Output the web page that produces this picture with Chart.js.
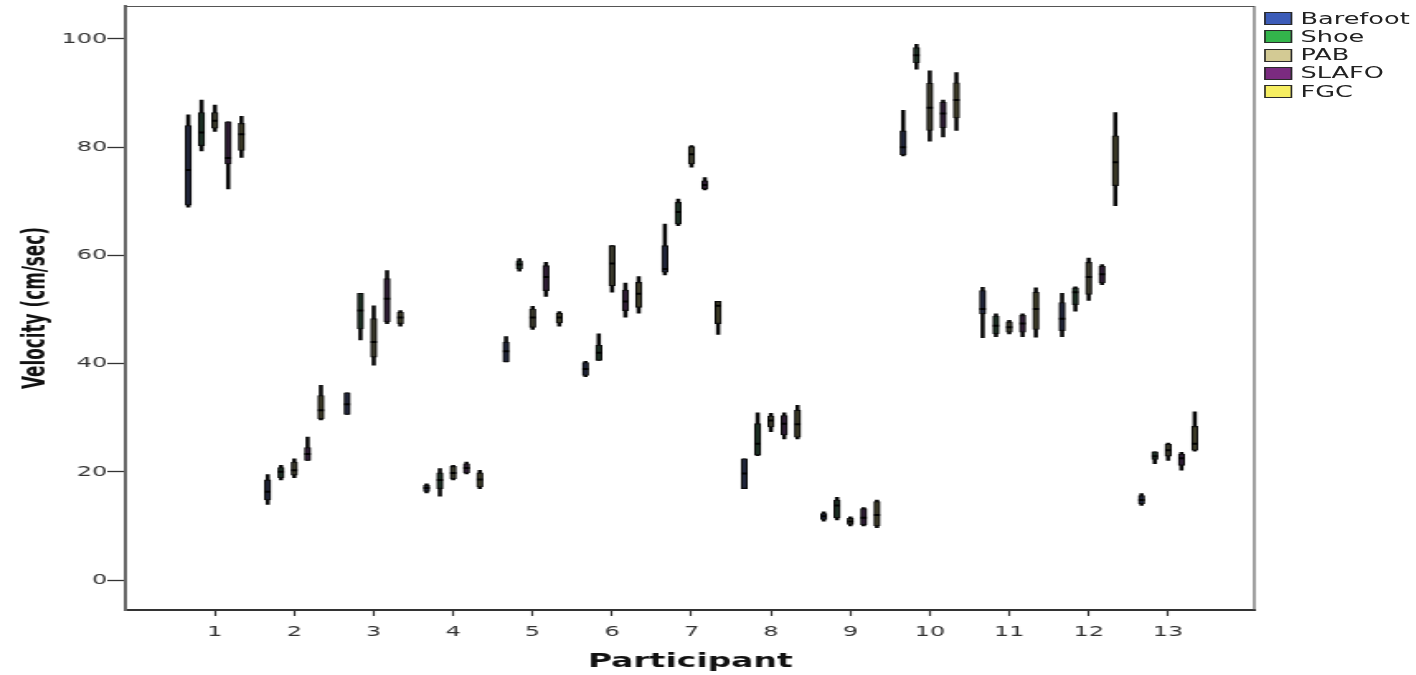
<!DOCTYPE html>
<html>
<head>
<meta charset="utf-8">
<script src="https://cdn.jsdelivr.net/npm/chart.js@4.4.1/dist/chart.umd.min.js"></script>
<style>
  html, body { margin: 0; padding: 0; background: #fff; overflow: hidden; }
  /* the figure is laid out narrow and widened horizontally */
  #stage { position: absolute; left: 0; top: 0; width: 858px; height: 675px;
           transform-origin: 0 0; transform: scaleX(1.65035); }
  #c { position: absolute; left: 0; top: 0; }
  #legend { position: absolute; left: 765.6px; top: 9.4px;
            font: 15.5px "DejaVu Sans", sans-serif; color: #222; }
  .item { height: 18.25px; display: flex; align-items: center; white-space: nowrap; }
  .sw { width: 17.4px; height: 13px; box-sizing: border-box; border: 1.5px solid #2a2a2a; margin-right: 5px; }
</style>
</head>
<body>
<div id="stage">
  <canvas id="c" width="858" height="675"></canvas>
  <div id="legend"></div>
</div>
<script>
// Participants on the category axis
const participants = [1, 2, 3, 4, 5, 6, 7, 8, 9, 10, 11, 12, 13];
const seriesNames = ['Barefoot', 'Shoe', 'PAB', 'SLAFO', 'FGC'];
const yTicks = [0, 20, 40, 60, 80, 100];

// Velocity (cm/sec) per participant: [low whisker, Q1, median, Q3, high whisker]
const barefoot = [
  [68.9, 69.3, 75.8, 84.0, 86.0], [14.0, 14.8, 16.3, 18.5, 19.5], [30.6, 30.6, 32.5, 34.6, 34.6],
  [16.1, 16.4, 17.0, 17.5, 17.8], [40.3, 40.3, 42.3, 44.0, 45.0], [37.6, 37.8, 39.0, 40.2, 40.4],
  [56.4, 56.9, 57.5, 61.8, 65.8], [16.9, 16.9, 19.7, 22.4, 22.4], [10.9, 11.2, 11.8, 12.3, 12.6],
  [78.4, 78.6, 80.0, 83.0, 86.8], [44.8, 49.2, 50.1, 53.5, 54.1], [45.0, 46.1, 48.3, 51.3, 53.0],
  [13.8, 14.1, 14.8, 15.6, 16.0]
];
const shoe = [
  [79.3, 80.3, 82.7, 86.4, 88.7], [18.5, 18.9, 20.0, 20.8, 21.2], [44.4, 46.4, 49.8, 53.0, 53.0],
  [15.5, 16.9, 18.5, 19.8, 20.6], [57.1, 57.5, 58.3, 59.0, 59.4], [40.6, 40.6, 42.0, 43.4, 45.5],
  [65.5, 65.8, 68.0, 69.8, 70.4], [23.0, 23.1, 25.2, 28.9, 30.9], [11.1, 11.5, 13.8, 14.8, 15.3],
  [94.4, 95.6, 97.0, 98.4, 99.0], [45.0, 45.5, 47.0, 48.8, 49.2], [49.7, 50.9, 53.2, 54.0, 54.2],
  [21.5, 22.3, 22.9, 23.7, 23.7]
];
const pab = [
  [82.9, 83.5, 84.9, 86.4, 87.8], [18.9, 19.4, 20.3, 21.8, 22.4], [39.7, 41.2, 44.0, 48.3, 50.7],
  [18.5, 18.7, 19.8, 21.0, 21.2], [46.3, 46.7, 48.5, 50.1, 50.6], [53.2, 54.4, 58.5, 61.8, 61.8],
  [76.3, 76.9, 78.7, 80.1, 80.3], [27.4, 28.3, 29.5, 30.3, 30.8], [10.0, 10.3, 10.8, 11.4, 11.7],
  [81.1, 83.1, 87.3, 91.8, 94.1], [45.5, 45.8, 46.7, 47.7, 48.0], [51.7, 52.8, 56.0, 58.7, 59.5],
  [22.1, 22.9, 24.0, 25.1, 25.3]
];
const slafo = [
  [72.3, 76.9, 78.0, 84.7, 84.7], [22.1, 22.1, 23.3, 24.5, 26.4], [47.4, 47.7, 52.0, 55.7, 57.2],
  [19.6, 19.8, 20.7, 21.5, 21.8], [52.4, 53.5, 56.0, 58.1, 58.7], [48.6, 49.8, 51.5, 53.6, 54.9],
  [72.1, 72.3, 73.0, 73.8, 74.4], [26.1, 26.8, 28.9, 30.4, 30.9], [10.0, 10.2, 11.5, 13.2, 13.4],
  [81.9, 83.6, 86.2, 88.3, 88.7], [45.0, 45.8, 47.4, 48.9, 49.2], [54.6, 54.9, 56.5, 58.0, 58.3],
  [20.3, 21.2, 22.5, 23.3, 23.6]
];
const fgc = [
  [78.1, 79.4, 82.4, 84.4, 85.7], [29.6, 29.8, 31.4, 34.1, 36.0], [46.9, 47.4, 48.5, 49.5, 49.8],
  [16.9, 17.2, 18.6, 19.8, 20.3], [46.9, 47.5, 48.5, 49.3, 49.6], [49.3, 50.4, 52.9, 55.0, 56.1],
  [45.4, 47.4, 50.7, 51.5, 51.5], [26.1, 26.4, 28.8, 31.4, 32.3], [9.7, 10.0, 12.0, 14.5, 14.8],
  [83.1, 85.4, 88.7, 91.9, 93.8], [44.9, 46.3, 50.1, 53.2, 54.0], [69.2, 72.9, 77.2, 82.1, 86.4],
  [23.8, 24.0, 25.2, 28.4, 31.1]
];

const stats = [barefoot, shoe, pab, slafo, fgc];
const swatchColors = ['#3c5cb8', '#33b54b', '#d3ca94', '#7b2b80', '#f6ee62'];
const boxFills = ['#20253a', '#1c3024', '#3b3a2c', '#2f1d35', '#3d3b27'];
const slot = 0.1675;               // spacing of the five boxes within a participant

const datasets = [];
stats.forEach((rows, s) => {
  const dx = (s - 2) * slot;
  datasets.push({
    type: 'bar', label: seriesNames[s] + ' whiskers',
    data: rows.map((r, i) => ({ x: participants[i] + dx, y: [r[0], r[4]] })),
    backgroundColor: '#0a0a0a', borderWidth: 0, barThickness: 1.9, grouped: false, order: 3
  });
  datasets.push({
    type: 'bar', label: seriesNames[s],
    data: rows.map((r, i) => ({ x: participants[i] + dx, y: [r[1], r[3]] })),
    backgroundColor: boxFills[s], borderColor: '#0a0a0a', borderWidth: 1.1, borderSkipped: false,
    barThickness: 3.7, grouped: false, order: 2
  });
  datasets.push({
    type: 'line', label: seriesNames[s] + ' median',
    data: rows.map((r, i) => ({ x: participants[i] + dx, y: r[2] })),
    showLine: false, pointStyle: 'line', pointRadius: 1.8, pointBorderWidth: 2,
    pointBorderColor: '#000', pointBackgroundColor: '#000', order: 1
  });
});

// Legend
const legend = document.getElementById('legend');
seriesNames.forEach((name, s) => {
  const item = document.createElement('div');
  item.className = 'item';
  const sw = document.createElement('span');
  sw.className = 'sw';
  sw.style.background = swatchColors[s];
  item.appendChild(sw);
  item.appendChild(document.createTextNode(name));
  legend.appendChild(item);
});

// Condensed bold face for the vertical axis title, sized to its length
const yTitle = 'Velocity (cm/sec)';
function titleFont() {
  const m = document.createElement('canvas').getContext('2d');
  const families = ['"Liberation Sans Narrow"', '"DejaVu Sans Condensed"', '"Liberation Sans"'];
  m.font = 'bold 24px monospace';
  const base = m.measureText(yTitle).width;
  for (const f of families) {
    m.font = 'bold 24px ' + f + ', monospace';
    const w = m.measureText(yTitle).width;
    if (Math.abs(w - base) > 0.5) return { family: f + ', sans-serif', size: 24 * 162 / w };
  }
  return { family: 'sans-serif', size: 20 };
}
const tf = titleFont();

// Thin frame along the top and right edges of the plot
const framePlugin = {
  id: 'frame',
  afterDraw(chart) {
    const { ctx, chartArea: a } = chart;
    ctx.save();
    ctx.strokeStyle = '#555';
    ctx.lineWidth = 1.1;
    ctx.beginPath();
    ctx.moveTo(a.left, a.top + 0.5);
    ctx.lineTo(a.right - 0.5, a.top + 0.5);
    ctx.lineTo(a.right - 0.5, a.bottom);
    ctx.stroke();
    ctx.restore();
  }
};

const tickFont = { family: '"DejaVu Sans", sans-serif', size: 14.5 };
const noEdgePadding = sc => { sc.paddingTop = 0; sc.paddingBottom = 0; sc.paddingLeft = 0; sc.paddingRight = 0; };

new Chart(document.getElementById('c').getContext('2d'), {
  type: 'bar',
  data: { datasets },
  options: {
    responsive: false,
    animation: false,
    events: [],
    devicePixelRatio: 1,
    layout: { padding: { top: 5, right: 97.5, left: 0, bottom: 0 } },
    datasets: { bar: { grouped: false } },
    plugins: { legend: { display: false }, tooltip: { enabled: false } },
    scales: {
      x: {
        type: 'linear', min: -0.126, max: 14.095, offset: false,
        afterBuildTicks: sc => { sc.ticks = participants.map(v => ({ value: v })); },
        afterFit: sc => { sc.height = 65; noEdgePadding(sc); },
        grid: { drawOnChartArea: false, drawTicks: true, tickLength: 6, tickColor: '#333', tickWidth: 1.2, offset: false },
        border: { display: true, color: '#333', width: 2 },
        ticks: { font: tickFont, color: '#333', padding: 8, maxRotation: 0, autoSkip: false },
        title: { display: true, text: 'Participant', color: '#111',
                 font: { family: '"DejaVu Sans", sans-serif', size: 20, weight: 'bold' },
                 padding: { top: 0, bottom: 1 } }
      },
      y: {
        min: -5.535, max: 106.09,
        afterBuildTicks: sc => { sc.ticks = yTicks.map(v => ({ value: v })); },
        afterFit: sc => { sc.width = 76; noEdgePadding(sc); },
        grid: { drawOnChartArea: false, drawTicks: true, tickLength: 11, tickColor: '#333', tickWidth: 1.3 },
        border: { display: true, color: '#666', width: 2 },
        ticks: { font: tickFont, color: '#333', padding: 0 },
        title: { display: true, text: yTitle, color: '#111',
                 font: { family: tf.family, size: tf.size, weight: 'bold' },
                 padding: { top: Math.max(0, 22.5 - tf.size * 0.6), bottom: 0 } }
      }
    }
  },
  plugins: [framePlugin]
});
</script>
</body>
</html>
